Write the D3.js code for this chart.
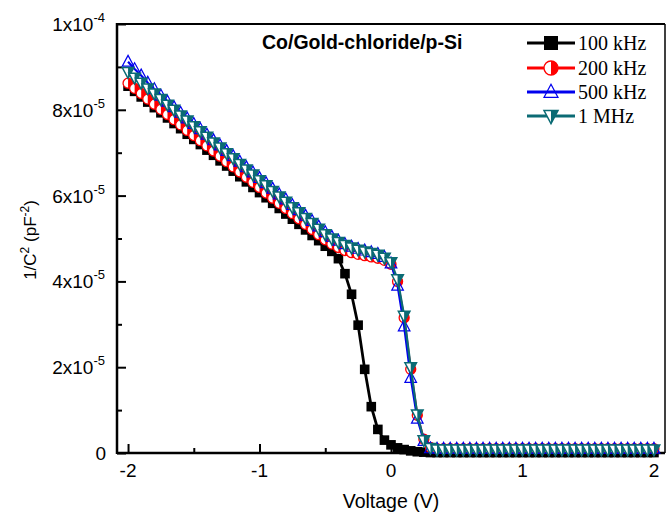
<!DOCTYPE html>
<html>
<head>
<meta charset="utf-8">
<script src="https://cdn.jsdelivr.net/npm/d3@7"></script>
<style>
  html, body { margin: 0; padding: 0; background: #ffffff; }
  svg { display: block; }
</style>
</head>
<body>
<svg id="chart" width="666" height="514"></svg>
<script>
// Bias voltage (V)
const voltage = [
  -2.00, -1.95, -1.90, -1.85, -1.80, -1.75, -1.70, -1.65, -1.60, -1.55,
  -1.50, -1.45, -1.40, -1.35, -1.30, -1.25, -1.20, -1.15, -1.10, -1.05,
  -1.00, -0.95, -0.90, -0.85, -0.80, -0.75, -0.70, -0.65, -0.60, -0.55,
  -0.50, -0.45, -0.40, -0.35, -0.30, -0.25, -0.20, -0.15, -0.10, -0.05,
   0.00,  0.05,  0.10,  0.15,  0.20,  0.25,  0.30,  0.35,  0.40,  0.45,
   0.50,  0.55,  0.60,  0.65,  0.70,  0.75,  0.80,  0.85,  0.90,  0.95,
   1.00,  1.05,  1.10,  1.15,  1.20,  1.25,  1.30,  1.35,  1.40,  1.45,
   1.50,  1.55,  1.60,  1.65,  1.70,  1.75,  1.80,  1.85,  1.90,  1.95,
   2.00
];

// 1/C^2 values, in units of 1e-5 pF^-2
const invC2_100kHz = [
  8.55, 8.43, 8.30, 8.18, 8.05, 7.93, 7.81, 7.68, 7.56, 7.43,
  7.31, 7.19, 7.06, 6.94, 6.81, 6.69, 6.57, 6.44, 6.32, 6.19,
  6.07, 5.95, 5.82, 5.70, 5.57, 5.45, 5.33, 5.20, 5.07, 4.95,
  4.82, 4.70, 4.53, 4.18, 3.70, 2.98, 1.95, 1.08, 0.55, 0.30,
  0.19, 0.12, 0.08, 0.05, 0.03, 0.02, 0.01, 0.01, 0.01, 0.01,
  0.01, 0.01, 0.01, 0.01, 0.01, 0.01, 0.01, 0.01, 0.01, 0.01,
  0.01, 0.01, 0.01, 0.01, 0.01, 0.01, 0.01, 0.01, 0.01, 0.01,
  0.01, 0.01, 0.01, 0.01, 0.01, 0.01, 0.01, 0.01, 0.01, 0.01,
  0.01
];
const invC2_200kHz = [
  8.62, 8.50, 8.38, 8.25, 8.13, 8.01, 7.89, 7.77, 7.65, 7.52,
  7.40, 7.28, 7.16, 7.04, 6.92, 6.79, 6.67, 6.55, 6.43, 6.31,
  6.19, 6.06, 5.94, 5.82, 5.70, 5.58, 5.46, 5.33, 5.21, 5.09,
  4.97, 4.87, 4.79, 4.72, 4.67, 4.63, 4.60, 4.57, 4.54, 4.49,
  4.40, 4.00, 3.15, 1.95, 0.88, 0.32, 0.13, 0.10, 0.10, 0.10,
  0.10, 0.10, 0.10, 0.10, 0.10, 0.10, 0.10, 0.10, 0.10, 0.10,
  0.10, 0.10, 0.10, 0.10, 0.10, 0.10, 0.10, 0.10, 0.10, 0.10,
  0.10, 0.10, 0.10, 0.10, 0.10, 0.10, 0.10, 0.10, 0.10, 0.10,
  0.10
];
const invC2_500kHz = [
  9.12, 8.95, 8.80, 8.63, 8.48, 8.33, 8.19, 8.06, 7.93, 7.80,
  7.67, 7.55, 7.42, 7.29, 7.17, 7.04, 6.92, 6.79, 6.66, 6.54,
  6.41, 6.29, 6.16, 6.03, 5.91, 5.78, 5.66, 5.53, 5.41, 5.28,
  5.15, 5.04, 4.95, 4.87, 4.81, 4.76, 4.72, 4.68, 4.64, 4.57,
  4.42, 3.90, 2.95, 1.75, 0.80, 0.28, 0.11, 0.10, 0.10, 0.10,
  0.10, 0.10, 0.10, 0.10, 0.10, 0.10, 0.10, 0.10, 0.10, 0.10,
  0.10, 0.10, 0.10, 0.10, 0.10, 0.10, 0.10, 0.10, 0.10, 0.10,
  0.10, 0.10, 0.10, 0.10, 0.10, 0.10, 0.10, 0.10, 0.10, 0.10,
  0.10
];
const invC2_1MHz = [
  8.88, 8.75, 8.63, 8.50, 8.38, 8.25, 8.12, 8.00, 7.87, 7.75,
  7.62, 7.50, 7.37, 7.24, 7.12, 6.99, 6.87, 6.74, 6.61, 6.49,
  6.36, 6.24, 6.11, 5.98, 5.86, 5.73, 5.61, 5.48, 5.36, 5.23,
  5.10, 5.00, 4.92, 4.85, 4.79, 4.74, 4.70, 4.66, 4.62, 4.55,
  4.45, 4.05, 3.20, 2.00, 0.90, 0.30, 0.12, 0.08, 0.08, 0.08,
  0.08, 0.08, 0.08, 0.08, 0.08, 0.08, 0.08, 0.08, 0.08, 0.08,
  0.08, 0.08, 0.08, 0.08, 0.08, 0.08, 0.08, 0.08, 0.08, 0.08,
  0.08, 0.08, 0.08, 0.08, 0.08, 0.08, 0.08, 0.08, 0.08, 0.08,
  0.08
];

const seriesNames = ["100 kHz", "200 kHz", "500 kHz", "1 MHz"];
const xTickValues = [-2, -1, 0, 1, 2];
const xTickLabels = ["-2", "-1", "0", "1", "2"];
const yTickValues = [0, 2, 4, 6, 8, 10];            // units of 1e-5
const yTickMantissa = ["0", "2x10", "4x10", "6x10", "8x10", "1x10"];
const yTickExponent = ["", "-5", "-5", "-5", "-5", "-4"];
const chartTitle = "Co/Gold-chloride/p-Si";

// Series styling
const styles = [
  { color: "#000000", marker: "square", size: 4.8 },
  { color: "#ff0000", marker: "halfCircle", size: 5 },
  { color: "#0000ee", marker: "triUp", size: 5.8 },
  { color: "#0b6b74", marker: "triDown", size: 5.8 }
];
const seriesValues = [invC2_100kHz, invC2_200kHz, invC2_500kHz, invC2_1MHz];

const svg = d3.select("#chart");
const plot = { left: 117, right: 665, top: 24, bottom: 453 };

const x = d3.scaleLinear().domain([-2.084, 2.084]).range([plot.left, plot.right]);
const y = d3.scaleLinear().domain([0, 10]).range([plot.bottom, plot.top]);

// Marker drawing
function drawMarker(g, type, color, s) {
  if (type === "square") {
    g.append("rect").attr("x", -s).attr("y", -s).attr("width", 2 * s).attr("height", 2 * s)
      .attr("fill", color);
  } else if (type === "halfCircle") {
    g.append("circle").attr("r", s).attr("fill", "#ffffff").attr("stroke", color).attr("stroke-width", 1.3);
    g.append("path").attr("d", `M0,${-s} A${s},${s} 0 0 1 0,${s} Z`).attr("fill", color);
  } else if (type === "triUp") {
    const h = s * 1.1;
    g.append("path").attr("d", `M0,${-h} L${s},${h * 0.7} L${-s},${h * 0.7} Z`)
      .attr("fill", "none").attr("stroke", color).attr("stroke-width", 1.2);
  } else if (type === "triDown") {
    const h = s * 1.1;
    g.append("path").attr("d", `M${-s},${-h * 0.7} L${s},${-h * 0.7} L0,${h} Z`)
      .attr("fill", "#ffffff").attr("stroke", color).attr("stroke-width", 1.5);
    g.append("path").attr("d", `M0,${-h * 0.7} L${s},${-h * 0.7} L0,${h} Z`).attr("fill", color);
  }
}

// Axes
const axisColor = "#000";
const axes = svg.append("g");

// frame lines (top and right without ticks)
axes.append("line").attr("x1", plot.left).attr("x2", plot.right).attr("y1", plot.top).attr("y2", plot.top)
  .attr("stroke", axisColor).attr("stroke-width", 2);
axes.append("line").attr("x1", plot.right).attr("x2", plot.right).attr("y1", plot.top).attr("y2", plot.bottom)
  .attr("stroke", axisColor).attr("stroke-width", 1.5);

const xAxis = d3.axisBottom(x).tickValues(xTickValues).tickSize(-9).tickFormat("");
const xMinor = d3.axisBottom(x).tickValues([-1.5, -0.5, 0.5, 1.5]).tickSize(-5).tickFormat("");
const yAxis = d3.axisLeft(y).tickValues(yTickValues).tickSize(-9).tickFormat("");
const yMinor = d3.axisLeft(y).tickValues([1, 3, 5, 7, 9]).tickSize(-5).tickFormat("");

function styleAxis(g) {
  g.select(".domain").remove();
  g.selectAll(".tick line").attr("stroke", axisColor).attr("stroke-width", 2);
}
axes.append("g").attr("transform", `translate(0,${plot.bottom})`).call(xAxis).call(styleAxis);
axes.append("g").attr("transform", `translate(0,${plot.bottom})`).call(xMinor).call(styleAxis);
axes.append("g").attr("transform", `translate(${plot.left},0)`).call(yAxis).call(styleAxis);
axes.append("g").attr("transform", `translate(${plot.left},0)`).call(yMinor).call(styleAxis);

axes.append("line").attr("x1", plot.left).attr("x2", plot.right).attr("y1", plot.bottom).attr("y2", plot.bottom)
  .attr("stroke", axisColor).attr("stroke-width", 2.5);
axes.append("line").attr("x1", plot.left).attr("x2", plot.left).attr("y1", plot.top - 1).attr("y2", plot.bottom + 1)
  .attr("stroke", axisColor).attr("stroke-width", 2.5);

// Tick labels
const labelFont = "Liberation Sans, Arial, sans-serif";
svg.append("g").selectAll("text").data(xTickValues).join("text")
  .attr("x", d => x(d)).attr("y", 477)
  .attr("text-anchor", "middle").attr("font-family", labelFont).attr("font-size", 19)
  .text((d, i) => xTickLabels[i]);

const yl = svg.append("g").selectAll("text").data(yTickValues).join("text")
  .attr("x", 105).attr("y", d => y(d) + 7)
  .attr("text-anchor", "end").attr("font-family", labelFont).attr("font-size", 19);
yl.each(function (d, i) {
  const t = d3.select(this);
  if (i === 0) { t.attr("x", 106).text(yTickMantissa[i]); return; }
  t.append("tspan").text(yTickMantissa[i]);
  t.append("tspan").attr("dy", -9).attr("font-size", 13).text(yTickExponent[i]);
});

// Axis titles
svg.append("text").attr("x", 391).attr("y", 508).attr("text-anchor", "middle")
  .attr("font-family", labelFont).attr("font-size", 19.5).text("Voltage (V)");

const yt = svg.append("text").attr("transform", "translate(36,240) rotate(-90)")
  .attr("text-anchor", "middle").attr("font-family", labelFont).attr("font-size", 17);
yt.append("tspan").text("1/C");
yt.append("tspan").attr("dy", -7).attr("font-size", 12).text("2");
yt.append("tspan").attr("dy", 7).text(" (pF");
yt.append("tspan").attr("dy", -7).attr("font-size", 12).text("-2");
yt.append("tspan").attr("dy", 7).text(")");

// Title
svg.append("text").attr("x", 262).attr("y", 49)
  .attr("font-family", labelFont).attr("font-weight", "bold").attr("font-size", 19.5)
  .text(chartTitle);

// Series
const line = d3.line().x(d => x(d[0])).y(d => y(d[1]));
const dataLayer = svg.append("g");
seriesValues.forEach((vals, si) => {
  const pts = voltage.map((v, i) => [v, vals[i]]);
  const st = styles[si];
  const g = dataLayer.append("g");
  g.append("path").datum(pts).attr("d", line).attr("fill", "none")
    .attr("stroke", st.color).attr("stroke-width", si === 0 ? 2.8 : 2.2);
  g.selectAll("g.m").data(pts).join("g").attr("class", "m")
    .attr("transform", d => `translate(${x(d[0])},${y(d[1])})`)
    .each(function () { drawMarker(d3.select(this), st.marker, st.color, st.size); });
});

// Legend
const legend = svg.append("g");
const legendRows = [43, 68, 92, 116];
seriesNames.forEach((name, i) => {
  const st = styles[i];
  const ly = legendRows[i];
  legend.append("line").attr("x1", 527).attr("x2", 575).attr("y1", ly).attr("y2", ly)
    .attr("stroke", st.color).attr("stroke-width", 3);
  const m = legend.append("g").attr("transform", `translate(551,${ly})`);
  drawMarker(m, st.marker, st.color, 7);
  legend.append("text").attr("x", 578).attr("y", ly + 7)
    .attr("font-family", "Liberation Serif, Times New Roman, serif").attr("font-size", 20)
    .text(name);
});
</script>
</body>
</html>
